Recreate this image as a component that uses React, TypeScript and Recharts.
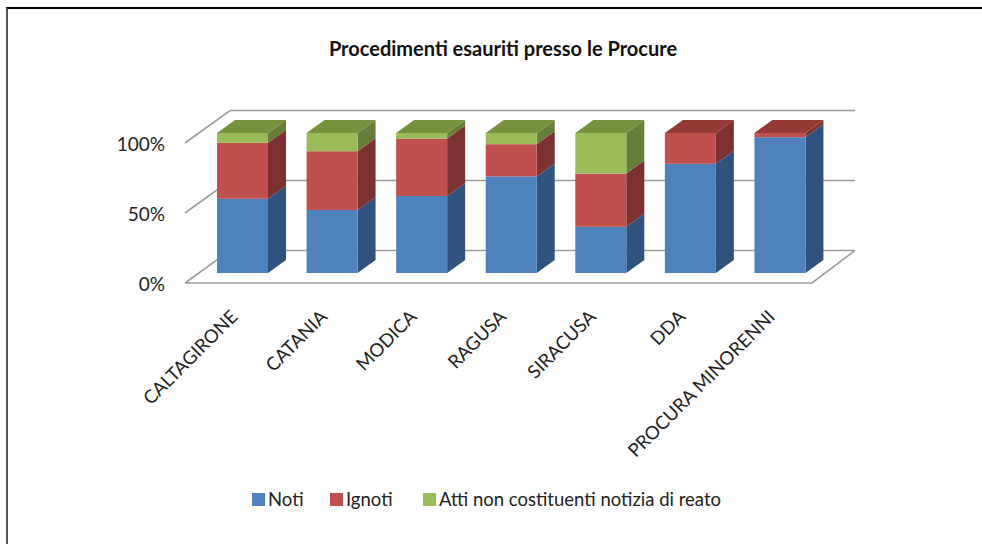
import React from "react";
import { Bar, BarChart, CartesianGrid, Legend, XAxis, YAxis } from "recharts";

const categories = [
	"CALTAGIRONE",
	"CATANIA",
	"MODICA",
	"RAGUSA",
	"SIRACUSA",
	"DDA",
	"PROCURA MINORENNI",
];
const noti = [53, 45, 55, 69, 33, 78, 97];
const ignoti = [40, 42, 41, 23, 38, 22, 3];
const atti = [7, 13, 4, 8, 29, 0, 0];
const yTicks = [0, 50, 100];

const series = [
	{ key: "noti", name: "Noti", front: "#4F81BD", side: "#30527E", top: "#3F6797" },
	{ key: "ignoti", name: "Ignoti", front: "#C0504D", side: "#7B3130", top: "#943936" },
	{
		key: "atti",
		name: "Atti non costituenti notizia di reato",
		front: "#9BBB59",
		side: "#677E3A",
		top: "#77923F",
	},
];

const data = categories.map((name, i) => ({
	name,
	noti: noti[i],
	ignoti: ignoti[i],
	atti: atti[i],
}));

const W = 982;
const H = 544;
const LEFT = 198;
const XAXIS_H = 271;
const PLOT_BOTTOM = H - XAXIS_H;
const FONT = "Lato, 'Noto Sans', sans-serif";

// profondità delle barre e del "pavimento"
const DX = 18;
const DY = 13;
const FLOOR_FRONT = { x: -13, y: 10 };
const FLOOR_BACK = { x: 32, y: -22.5 };

const gridLine = (props: any) => {
	const { x1, x2, y1, index } = props;
	let d = `M${x1 + FLOOR_FRONT.x},${y1 + FLOOR_FRONT.y} L${x1 + FLOOR_BACK.x},${y1 + FLOOR_BACK.y} L${x2 + FLOOR_BACK.x - 2},${y1 + FLOOR_BACK.y}`;
	if (Math.abs(y1 - PLOT_BOTTOM) < 1) {
		d += ` M${x1 + FLOOR_FRONT.x},${y1 + FLOOR_FRONT.y} L${x2 + FLOOR_FRONT.x},${y1 + FLOOR_FRONT.y} L${x2 + FLOOR_BACK.x - 2},${y1 + FLOOR_BACK.y}`;
	}
	return (
		<path
			key={`grid-${index}`}
			d={d}
			fill="none"
			stroke="#9c9c9c"
			strokeWidth={1.6}
		/>
	);
};

const YTick = ({ y, payload }: any) => (
	<text
		x={LEFT - 33}
		y={y + FLOOR_FRONT.y}
		textAnchor="end"
		dominantBaseline="central"
		fontSize={19}
		fontFamily={FONT}
		fill="#222"
	>
		{`${payload.value}%`}
	</text>
);

const XTick = ({ x, payload }: any) => {
	const ax = x - 9;
	const ay = 313;
	return (
		<text
			x={ax}
			y={ay}
			transform={`rotate(-45, ${ax}, ${ay})`}
			textAnchor="end"
			dominantBaseline="central"
			fontSize={18.5}
			fontFamily={FONT}
			fill="#222"
		>
			{payload.value}
		</text>
	);
};

const make3D = (idx: number) => (props: any) => {
	const { x, y, width, height, payload } = props;
	const s = series[idx];
	if (!height || Math.abs(height) < 0.5) return <g />;
	const top = height > 0 ? y : y + height;
	const h = Math.abs(height);
	const isTop = series.slice(idx + 1).every((o) => !payload[o.key]);
	return (
		<g>
			<polygon
				points={`${x + width},${top} ${x + width + DX},${top - DY} ${x + width + DX},${top + h - DY} ${x + width},${top + h}`}
				fill={s.side}
			/>
			{isTop && (
				<polygon
					points={`${x},${top} ${x + DX},${top - DY} ${x + width + DX},${top - DY} ${x + width},${top}`}
					fill={s.top}
				/>
			)}
			<rect x={x} y={top} width={width} height={h} fill={s.front} />
		</g>
	);
};

const legendX = [252, 330, 423];

const renderLegend = () => (
	<div style={{ position: "relative", width: W, height: 24 }}>
		{series.map((s, i) => (
			<div
				key={s.key}
				style={{
					position: "absolute",
					left: legendX[i],
					top: 0,
					display: "flex",
					alignItems: "center",
					fontFamily: FONT,
					fontSize: 18.5,
					color: "#222",
					whiteSpace: "nowrap",
				}}
			>
				<span
					style={{
						display: "inline-block",
						width: 13,
						height: 13,
						background: s.front,
						marginRight: 3,
					}}
				/>
				<span>{s.name}</span>
			</div>
		))}
	</div>
);

export default function App() {
	return (
		<div
			style={{
				position: "absolute",
				left: 0,
				top: 0,
				width: W,
				height: H,
				background: "#fff",
				overflow: "hidden",
			}}
		>
			<BarChart
				width={W}
				height={H}
				data={data}
				margin={{ top: 133, right: 157, bottom: 0, left: 0 }}
			>
				<CartesianGrid vertical={false} horizontal={gridLine} />
				<XAxis
					dataKey="name"
					height={XAXIS_H}
					axisLine={false}
					tickLine={false}
					interval={0}
					tick={<XTick />}
				/>
				<YAxis
					width={LEFT}
					domain={[0, 100]}
					ticks={yTicks}
					axisLine={false}
					tickLine={false}
					tick={<YTick />}
				/>
				<Legend
					layout="vertical"
					align="center"
					verticalAlign="middle"
					content={renderLegend}
					wrapperStyle={{ top: 488, left: 0, width: W }}
				/>
				{series.map((s, i) => (
					<Bar
						key={s.key}
						dataKey={s.key}
						name={s.name}
						stackId="a"
						barSize={51}
						fill={s.front}
						shape={make3D(i)}
						isAnimationActive={false}
					/>
				))}
				<text
					x={503}
					y={48}
					textAnchor="middle"
					dominantBaseline="central"
					fontSize={20}
					fontWeight="bold"
					fontFamily={FONT}
					fill="#111"
				>
					Procedimenti esauriti presso le Procure
				</text>
			</BarChart>
			<div
				style={{
					position: "absolute",
					left: 6,
					top: 7,
					width: W - 6,
					height: H - 7,
					borderTop: "2px solid #000",
					borderLeft: "2px solid #555",
					boxSizing: "border-box",
					pointerEvents: "none",
				}}
			/>
		</div>
	);
}
